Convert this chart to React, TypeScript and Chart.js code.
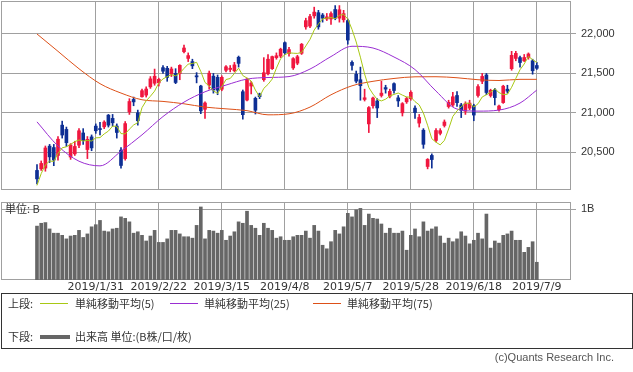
import React, { useEffect, useRef } from "react";
import { Chart, registerables } from "chart.js";

Chart.register(...registerables);

const dates = [
  "2019/1/10","2019/1/11","2019/1/15","2019/1/16","2019/1/17","2019/1/18","2019/1/21","2019/1/22","2019/1/23","2019/1/24",
  "2019/1/25","2019/1/28","2019/1/29","2019/1/30","2019/1/31","2019/2/1","2019/2/4","2019/2/5","2019/2/6","2019/2/7",
  "2019/2/8","2019/2/12","2019/2/13","2019/2/14","2019/2/15","2019/2/18","2019/2/19","2019/2/20","2019/2/21","2019/2/22",
  "2019/2/25","2019/2/26","2019/2/27","2019/2/28","2019/3/1","2019/3/4","2019/3/5","2019/3/6","2019/3/7","2019/3/8",
  "2019/3/11","2019/3/12","2019/3/13","2019/3/14","2019/3/15","2019/3/18","2019/3/19","2019/3/20","2019/3/22","2019/3/25",
  "2019/3/26","2019/3/27","2019/3/28","2019/3/29","2019/4/1","2019/4/2","2019/4/3","2019/4/4","2019/4/5","2019/4/8",
  "2019/4/9","2019/4/10","2019/4/11","2019/4/12","2019/4/15","2019/4/16","2019/4/17","2019/4/18","2019/4/19","2019/4/22",
  "2019/4/23","2019/4/24","2019/4/25","2019/4/26","2019/5/7","2019/5/8","2019/5/9","2019/5/10","2019/5/13","2019/5/14",
  "2019/5/15","2019/5/16","2019/5/17","2019/5/20","2019/5/21","2019/5/22","2019/5/23","2019/5/24","2019/5/27","2019/5/28",
  "2019/5/29","2019/5/30","2019/5/31","2019/6/3","2019/6/4","2019/6/5","2019/6/6","2019/6/7","2019/6/10","2019/6/11",
  "2019/6/12","2019/6/13","2019/6/14","2019/6/17","2019/6/18","2019/6/19","2019/6/20","2019/6/21","2019/6/24","2019/6/25",
  "2019/6/26","2019/6/27","2019/6/28","2019/7/1","2019/7/2","2019/7/3","2019/7/4","2019/7/5","2019/7/8","2019/7/9",
];

const opens = [
  20270,20290,20300,20578,20560,20460,20844,20790,20440,20480,
  20590,20745,20535,20695,20832,20800,20823,20971,20930,20832,
  20527,20420,21013,21170,21000,21204,21225,21330,21375,21380,
  21573,21565,21490,21500,21500,21775,21690,21650,21470,21340,
  21045,21352,21465,21450,21300,21540,21550,21535,21705,21268,
  21162,21340,21184,21240,21420,21495,21560,21700,21720,21890,
  21750,21570,21630,21755,22090,22100,22230,22270,22240,22190,
  22190,22310,22200,22180,22170,21640,21490,21420,21170,20860,
  21090,21150,21220,21320,21210,21370,21190,21000,21140,21180,
  21060,20870,20780,20320,20460,20650,20740,20840,21080,21100,
  21220,21100,21020,21060,21090,21220,21400,21480,21220,21290,
  21040,21130,21300,21560,21690,21700,21660,21700,21660,21600,
];

const highs = [
  20345,20390,20580,20600,20600,20700,20895,20820,20610,20640,
  20800,20800,20700,20720,20860,20880,20900,20980,20980,20860,
  20560,20890,21180,21200,21035,21300,21330,21460,21555,21440,
  21600,21590,21580,21560,21610,21860,21760,21680,21510,21350,
  21140,21530,21500,21480,21470,21600,21600,21640,21720,21290,
  21440,21400,21200,21250,21700,21740,21720,21760,21820,21900,
  21830,21700,21730,21880,22200,22250,22340,22300,22260,22260,
  22280,22360,22360,22300,22190,21660,21530,21580,21300,21080,
  21200,21180,21400,21350,21300,21380,21220,21130,21200,21280,
  21090,20980,20800,20420,20480,20800,20800,20910,21160,21260,
  21270,21120,21140,21160,21110,21360,21500,21500,21300,21310,
  21100,21350,21350,21780,21780,21720,21740,21760,21680,21640,
];

const lows = [
  20100,20270,20260,20370,20330,20400,20680,20575,20410,20460,
  20560,20600,20420,20520,20740,20720,20800,20820,20830,20680,
  20300,20400,20980,21090,20844,21200,21200,21310,21350,21340,
  21500,21400,21460,21370,21420,21760,21650,21560,21380,20990,
  20930,21300,21250,21230,21280,21520,21520,21520,21580,20920,
  21150,21240,20985,21180,21400,21480,21550,21680,21700,21740,
  21720,21550,21610,21740,22060,22080,22200,22060,22150,22170,
  22120,22180,22150,22150,21870,21540,21380,21160,21150,20750,
  21060,20940,21200,21250,21190,21250,21080,20960,21120,21160,
  20930,20820,20550,20290,20300,20630,20720,20820,21060,21080,
  21080,20940,20980,21040,20900,21200,21370,21230,21200,21100,
  21020,21120,21250,21540,21660,21580,21650,21680,21490,21550,
];

const closes = [
  20163,20359,20555,20442,20402,20666,20719,20622,20593,20574,
  20773,20649,20664,20556,20773,20788,20883,20844,20874,20751,
  20333,20864,21144,21139,20900,21281,21302,21431,21464,21425,
  21528,21449,21556,21385,21602,21822,21726,21596,21456,21025,
  21125,21503,21290,21287,21450,21584,21566,21608,21627,20977,
  21428,21378,21033,21205,21509,21680,21713,21724,21807,21761,
  21802,21687,21711,21870,22169,22221,22277,22090,22200,22217,
  22259,22200,22307,22258,21923,21602,21402,21344,21191,21067,
  21188,21062,21250,21301,21272,21283,21151,21117,21182,21260,
  21003,20942,20601,20410,20408,20776,20774,20884,21134,21204,
  21129,21032,21116,21124,20972,21333,21462,21258,21285,21193,
  21086,21338,21275,21729,21754,21638,21702,21746,21534,21565,
];

// volume in billions (B)
const volumes = [
  0.76,0.80,0.81,0.72,0.66,0.66,0.63,0.58,0.62,0.63,
  0.70,0.60,0.65,0.75,0.78,0.84,0.69,0.68,0.72,0.73,
  0.89,0.87,0.82,0.66,0.68,0.63,0.55,0.62,0.70,0.53,
  0.53,0.58,0.70,0.70,0.65,0.61,0.61,0.59,0.77,1.03,
  0.58,0.70,0.69,0.66,0.70,0.56,0.62,0.68,0.82,0.80,
  0.97,0.77,0.73,0.63,0.80,0.73,0.70,0.59,0.61,0.56,
  0.56,0.61,0.63,0.63,0.69,0.59,0.77,0.69,0.49,0.44,
  0.54,0.70,0.65,0.75,0.94,0.89,0.99,1.01,0.77,0.93,
  0.87,0.86,0.79,0.66,0.73,0.66,0.66,0.69,0.42,0.63,
  0.72,0.61,0.82,0.69,0.72,0.75,0.62,0.52,0.59,0.54,
  0.58,0.68,0.62,0.51,0.56,0.66,0.58,0.93,0.45,0.55,
  0.52,0.63,0.65,0.69,0.56,0.56,0.39,0.46,0.54,0.25,
];

// first four 5-day averages (need closes before the window)
const ma5Head = [20080, 20230, 20340, 20390];

// 25- and 75-day averages at these candle indexes
const maIdx = [0,5,10,15,20,25,30,35,40,45,50,55,60,65,70,75,80,85,90,95,100,105,110,115,119];
const ma25Val = [20886,20580,20387,20328,20514,20721,20953,21136,21267,21352,21428,21448,21460,21555,21714,21844,21822,21708,21549,21276,21048,21022,21035,21124,21289];
const ma75Val = [22000,21780,21559,21370,21251,21166,21145,21115,21073,21051,21028,20975,20988,21073,21229,21343,21400,21436,21457,21458,21445,21420,21410,21425,21425];

const labelIdx = [14, 29, 44, 59, 74, 89, 104, 119];
const priceTicks = [20500, 21000, 21500, 22000];
const volumeTicks = [1];

const UP = "#f0173f";
const DOWN = "#0e2f94";
const MA5C = "#a8c814";
const MA25C = "#9a2ed2";
const MA75C = "#dd5018";
const VOLC = "#666666";
const GRID = "#a0a0a0";

const X_MIN = -8.57;
const X_MAX = 127.14;

const framePlugin = {
  id: "frame",
  beforeDatasetsDraw(chart: any) {
    const { ctx, chartArea: a } = chart;
    ctx.save();
    ctx.strokeStyle = GRID;
    ctx.lineWidth = 1;
    const l = Math.round(a.left) + 0.5;
    const t = Math.round(a.top) + 0.5;
    const r = Math.round(a.right) - 0.5;
    const b = Math.round(a.bottom) - 0.5;
    ctx.strokeRect(l, t, r - l, b - t);
    ctx.restore();
  },
};

function ma5(): { x: number; y: number }[] {
  return closes.map((_, i) => {
    if (i < 4) return { x: i, y: ma5Head[i] };
    let s = 0;
    for (let k = i - 4; k <= i; k++) s += closes[k];
    return { x: i, y: s / 5 };
  });
}

function xScale(showLabels: boolean, height: number) {
  return {
    type: "linear",
    min: X_MIN,
    max: X_MAX,
    offset: false,
    afterBuildTicks: (s: any) => {
      s.ticks = labelIdx.map((v) => ({ value: v }));
    },
    afterFit: (s: any) => {
      s.height = height;
      s.paddingLeft = 0;
      s.paddingRight = 0;
    },
    ticks: showLabels
      ? {
          callback: (v: any) => dates[v] ?? "",
          autoSkip: false,
          maxRotation: 0,
          minRotation: 0,
          font: { family: "'DejaVu Sans', sans-serif", size: 11 },
          color: "#333",
          padding: 1,
        }
      : { display: false },
    grid: { color: GRID, drawTicks: false, offset: false },
    border: { display: false },
  };
}

function yScale(min: number, max: number, ticks: number[], fmt: (v: number) => string) {
  return {
    type: "linear",
    position: "right",
    min,
    max,
    afterBuildTicks: (s: any) => {
      s.ticks = ticks.map((v) => ({ value: v }));
    },
    afterFit: (s: any) => {
      s.width = 62;
      s.paddingTop = 0;
      s.paddingBottom = 0;
    },
    ticks: {
      callback: (v: any) => fmt(Number(v)),
      font: { family: "'Liberation Sans', sans-serif", size: 11 },
      color: "#333",
      padding: 5,
    },
    grid: { color: GRID, tickLength: 5, tickColor: GRID },
    border: { display: false },
  };
}

export default function App() {
  const topRef = useRef<HTMLCanvasElement>(null);
  const volRef = useRef<HTMLCanvasElement>(null);

  useEffect(() => {
    const colors = closes.map((c, i) => (c >= opens[i] ? UP : DOWN));
    const top = new Chart(topRef.current as HTMLCanvasElement, {
      type: "bar",
      data: {
        datasets: [
          {
            type: "line",
            data: ma5(),
            borderColor: MA5C,
            borderWidth: 1,
            pointRadius: 0,
            tension: 0,
            order: 0,
          } as any,
          {
            type: "line",
            data: maIdx.map((x, k) => ({ x, y: ma25Val[k] })),
            borderColor: MA25C,
            borderWidth: 1,
            pointRadius: 0,
            cubicInterpolationMode: "monotone",
            order: 0,
          } as any,
          {
            type: "line",
            data: maIdx.map((x, k) => ({ x, y: ma75Val[k] })),
            borderColor: MA75C,
            borderWidth: 1,
            pointRadius: 0,
            cubicInterpolationMode: "monotone",
            order: 0,
          } as any,
          {
            type: "bar",
            data: opens.map((o, i) => ({ x: i, y: [o, closes[i]] })),
            backgroundColor: colors,
            barThickness: 3,
            minBarLength: 1,
            grouped: false,
            order: 1,
          } as any,
          {
            type: "bar",
            data: lows.map((l, i) => ({ x: i, y: [l, highs[i]] })),
            backgroundColor: colors,
            barThickness: 1,
            grouped: false,
            order: 2,
          } as any,
        ],
      },
      options: {
        responsive: false,
        animation: false,
        events: [],
        layout: { padding: { left: 1, right: 0, top: 1, bottom: 1 } },
        plugins: { legend: { display: false }, tooltip: { enabled: false } },
        scales: {
          x: xScale(false, 0),
          y: yScale(20022, 22418, priceTicks, (v) => v.toLocaleString("en-US")),
        },
      } as any,
      plugins: [framePlugin],
    });

    const vol = new Chart(volRef.current as HTMLCanvasElement, {
      type: "bar",
      data: {
        datasets: [
          {
            data: volumes.map((v, i) => ({ x: i, y: v })),
            backgroundColor: VOLC,
            barThickness: 3,
            grouped: false,
          } as any,
        ],
      },
      options: {
        responsive: false,
        animation: false,
        events: [],
        layout: { padding: { left: 1, right: 0, top: 6, bottom: 0 } },
        plugins: { legend: { display: false }, tooltip: { enabled: false } },
        scales: {
          x: xScale(true, 14),
          y: yScale(0, 1.1, volumeTicks, (v) => `${v}B`),
        },
      } as any,
      plugins: [framePlugin],
    });

    return () => {
      top.destroy();
      vol.destroy();
    };
  }, []);

  const jp = "'Noto Sans CJK JP', 'DejaVu Sans', sans-serif";
  const txt: React.CSSProperties = {
    position: "absolute",
    fontFamily: jp,
    fontSize: 11,
    lineHeight: "13px",
    color: "#333",
    whiteSpace: "nowrap",
  };
  const line = (left: number, top: number, width: number, color: string, h = 1): React.CSSProperties => ({
    position: "absolute",
    left,
    top,
    width,
    height: h,
    background: color,
  });

  return (
    <div style={{ position: "absolute", left: 0, top: 0, width: 633, height: 372, background: "#fff", overflow: "hidden" }}>
      <canvas ref={topRef} width={633} height={191} style={{ position: "absolute", left: 0, top: 0, display: "block" }} />
      <canvas ref={volRef} width={633} height={98} style={{ position: "absolute", left: 0, top: 196, display: "block" }} />
      <div style={{ ...txt, left: 5, top: 202 }}>単位: B</div>

      <div
        style={{
          position: "absolute",
          left: 1,
          top: 293,
          width: 630,
          height: 54,
          border: "1px solid #333",
        }}
      />
      <div style={{ ...txt, left: 8, top: 297 }}>上段:</div>
      <div style={line(40, 303, 28, MA5C)} />
      <div style={{ ...txt, left: 75, top: 297 }}>単純移動平均(5)</div>
      <div style={line(170, 303, 28, MA25C)} />
      <div style={{ ...txt, left: 204, top: 297 }}>単純移動平均(25)</div>
      <div style={line(313, 303, 28, MA75C)} />
      <div style={{ ...txt, left: 347, top: 297 }}>単純移動平均(75)</div>

      <div style={{ ...txt, left: 8, top: 330 }}>下段:</div>
      <div style={line(40, 335, 30, VOLC, 4)} />
      <div style={{ ...txt, left: 75, top: 330 }}>出来高 単位:(B株/口/枚)</div>

      <div
        style={{
          ...txt,
          fontFamily: "'Liberation Sans', sans-serif",
          color: "#555",
          right: 19,
          top: 351,
        }}
      >
        (c)Quants Research Inc.
      </div>
    </div>
  );
}
